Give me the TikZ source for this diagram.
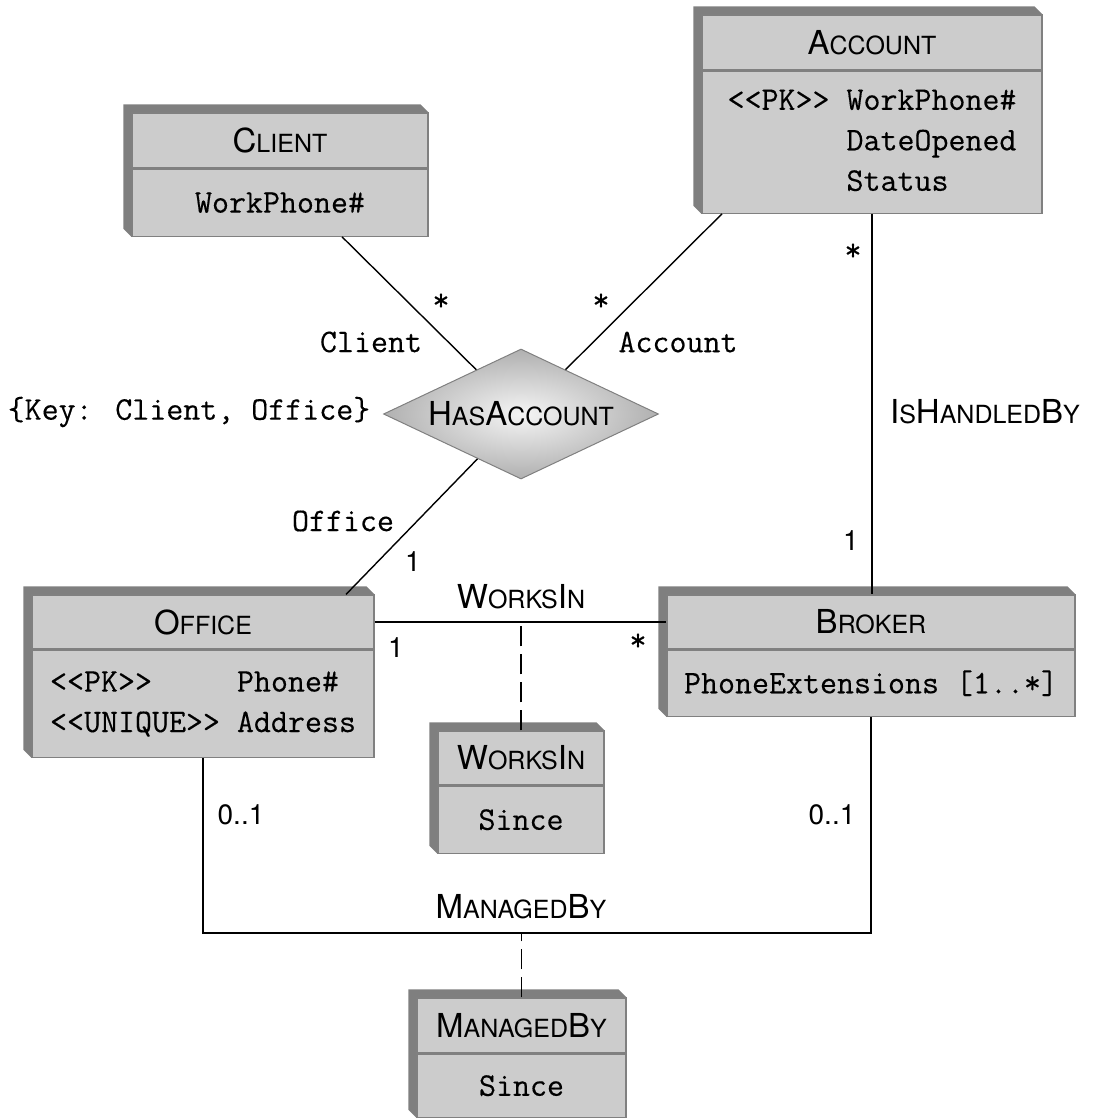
\documentclass[tikz,border=0pt]{standalone}
\usepackage{fontspec}
\setsansfont{TeX Gyre Heros}
\newfontface\ttheavy{Latin Modern Mono}[FakeBold=0.3]
\usepackage{tikz}
\usetikzlibrary{shapes.geometric, positioning, backgrounds, calc}

\definecolor{boxgray}{HTML}{CCCCCC}
\definecolor{sidegray}{HTML}{7F7F7F}

\newcommand{\hdsz}{\fontsize{33}{40}\selectfont}
\newcommand{\ttsz}{\fontsize{33}{40.5}\selectfont}
\newcommand{\mlsz}{\fontsize{28}{32}\selectfont}
\newcommand{\smc}[1]{{\fontsize{25}{30}\selectfont #1}}

\tikzset{
  classhead/.style={draw=black!50, line width=1.2pt, fill=boxgray, inner sep=0pt, font=\sffamily\hdsz},
  classbody/.style={draw=black!50, line width=1.2pt, fill=boxgray, inner sep=0pt, font=\ttheavy\ttsz, align=center},
  relation/.style={diamond, aspect=2.1, draw=gray, line width=1pt, inner color=gray!8, outer color=gray!62,
    inner sep=0pt, minimum width=275pt, minimum height=130pt, font=\sffamily\hdsz},
  link/.style={line width=1.4pt},
  assoclink/.style={link, dash pattern=on 20pt off 8pt},
  role/.style={font=\ttheavy\ttsz, inner sep=0pt},
  mult/.style={font=\sffamily\mlsz, inner sep=0pt},
  assocname/.style={font=\sffamily\hdsz, inner sep=0pt},
}

\begin{document}
\begin{tikzpicture}[x=1pt, y=-1pt]
        \useasboundingbox (0,0) rectangle (1099,1118);

        % --- CLASSES ---
        \node[classhead, minimum width=296pt, minimum height=55pt] (client) at (280,140.5) {C\smc{LIENT}};
        \node[classbody, minimum width=296pt, minimum height=67pt, below=0pt of client] (clientb) {WorkPhone\#};

        \node[classhead, minimum width=340pt, minimum height=55pt] (account) at (872,42.5) {A\smc{CCOUNT}};
        \node[classbody, minimum width=340pt, minimum height=142pt, below=0pt of account] (accountb)
            {\begin{tabular}{@{}l@{ }l@{}}
             <{}<PK>{}> & WorkPhone\# \\
                        & DateOpened \\
                        & Status
             \end{tabular}};

        \node[classhead, minimum width=342pt, minimum height=54pt] (office) at (203,622) {O\smc{FFICE}};
        \node[classbody, minimum width=342pt, minimum height=107pt, below=0pt of office] (officeb)
            {\begin{tabular}{@{}l@{ }l@{}}
             <{}<PK>{}>         & Phone\# \\
             <{}<UNIQUE>{}>     & Address
             \end{tabular}};

        \node[classhead, minimum width=408pt, minimum height=54pt] (broker) at (871,622) {B\smc{ROKER}};
        \node[classbody, minimum width=408pt, minimum height=66pt, below=0pt of broker] (brokerb) {PhoneExtensions [1..*]};

        % association classes
        \node[classhead, minimum width=166pt, minimum height=54pt] (worksin) at (521,758) {W\smc{ORKS}I\smc{N}};
        \node[classbody, minimum width=166pt, minimum height=67pt, below=0pt of worksin] (worksinb) {Since};

        \node[classhead, minimum width=209pt, minimum height=55pt] (managed) at (521.5,1025.5) {M\smc{ANAGED}B\smc{Y}};
        \node[classbody, minimum width=209pt, minimum height=63pt, below=0pt of managed] (managedb) {Since};

        % 3d sides
        \begin{scope}[on background layer]
            \foreach \c/\b in {client/clientb, account/accountb, office/officeb, broker/brokerb, worksin/worksinb, managed/managedb}
                \fill[sidegray] (\b.south west) -- ([shift={(-8,-8)}]\b.south west) -- ([shift={(-8,-8)}]\c.north west)
                    -- ([shift={(-8,-8)}]\c.north east) -- (\c.north east) -- cycle;
        \end{scope}

        % --- N-ARY ASSOCIATION ---
        \node[relation] (hasacc) at (521,414) {H\smc{AS}A\smc{CCOUNT}};

        \draw[link] ([xshift=62pt]clientb.south) -- (hasacc);
        \draw[link] ([xshift=-150pt]accountb.south) -- (hasacc);
        \draw[link] ([xshift=143pt]office.north) -- (hasacc);

        \node[role] at (441,302) {*};
        \node[role] at (371,342) {Client};
        \node[role] at (601,302) {*};
        \node[role] at (678,342) {Account};
        \node[role] at (343,521) {Office};
        \node[mult] at (413,562) {1};
        \node[role] at (189,412) {\{Key: Client, Office\}};

        % --- BINARY ASSOCIATIONS ---
        \draw[link] (accountb.south) -- (accountb.south |- broker.north);
        \node[role] at (853,252) {*};
        \node[mult] at (851,541) {1};
        \node[assocname] at (985,412) {I\smc{S}H\smc{ANDLED}B\smc{Y}};

        \draw[link] (office.east) -- (broker.west) coordinate[pos=0.5] (wmid);
        \node[assocname] at (521,597) {W\smc{ORKS}I\smc{N}};
        \node[mult] at (396,648) {1};
        \node[role] at (638,642) {*};
        \draw[assoclink] (worksin.north) -- (worksin.north |- wmid);

        \draw[link] (officeb.south) -- ++(0,175) coordinate (mgl) -| (brokerb.south);
        \node[assocname] at (521,907) {M\smc{ANAGED}B\smc{Y}};
        \node[mult] at (241,815) {0..1};
        \node[mult] at (832,815) {0..1};
        \draw[assoclink] (managed.north) -- (managed.north |- mgl);

\end{tikzpicture}
\end{document}
